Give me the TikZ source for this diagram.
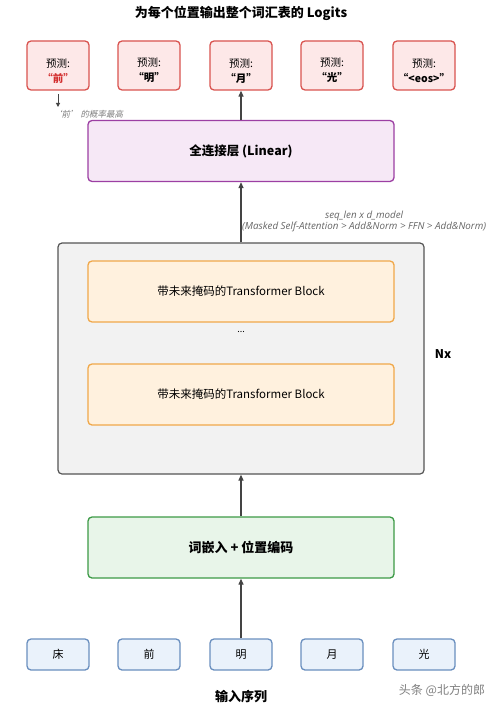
\documentclass[tikz,border=0pt]{standalone}
\usepackage{fontspec}
\setmainfont{Noto Sans CJK SC}
\newfontfamily\latit{Open Sans}
\newfontfamily\cjkit{Noto Sans CJK SC}[FakeSlant=0.2]
\usetikzlibrary{arrows.meta}
\definecolor{predfill}{HTML}{FDE8E8}
\definecolor{preddraw}{HTML}{D9534F}
\definecolor{infill}{HTML}{EAF2FB}
\definecolor{indraw}{HTML}{6A8FBF}
\definecolor{linfill}{HTML}{F6E8F6}
\definecolor{lindraw}{HTML}{9C3FA3}
\definecolor{stackfill}{HTML}{F2F2F2}
\definecolor{stackdraw}{HTML}{555555}
\definecolor{blkfill}{HTML}{FFF1DE}
\definecolor{blkdraw}{HTML}{F0A84A}
\definecolor{embfill}{HTML}{E8F5E9}
\definecolor{embdraw}{HTML}{3C9A46}
\definecolor{arrowc}{HTML}{444444}
\definecolor{notec}{HTML}{666666}
\definecolor{redtxt}{HTML}{D32F2F}
\newcommand{\toppad}{\rule{0pt}{19pt}}
\tikzset{
  box/.style={rounded corners=4pt, line width=1.3pt, inner sep=0pt, align=center},
  predbox/.style={box, fill=predfill, draw=preddraw, minimum width=62pt, minimum height=49pt, font=\fontsize{10.5}{15}\selectfont},
  inbox/.style={box, fill=infill, draw=indraw, minimum width=62pt, minimum height=31pt, font=\fontsize{11}{12}\selectfont},
  widebox/.style={box, minimum width=306pt, minimum height=61pt},
  flow/.style={-{Triangle[length=6pt,width=5pt]}, line width=1.2pt, draw=arrowc},
  note/.style={text=notec, inner sep=0pt},
}
\begin{document}
\begin{tikzpicture}[x=1pt,y=-1pt]
\useasboundingbox[fill=white] (0,0) rectangle (500,706);

\node[font=\fontsize{13}{14}\selectfont\bfseries] (title) at (241,13) {为每个位置输出整个词汇表的 Logits};

\node[predbox] (o1) at (58,65.5) {\toppad 预测:\\{\bfseries\color{redtxt}“前”}};
\node[predbox] (o2) at (149,65.5) {\toppad 预测:\\{\bfseries “明”}};
\node[predbox] (o3) at (241,65.5) {\toppad 预测:\\{\bfseries “月”}};
\node[predbox] (o4) at (332,65.5) {\toppad 预测:\\{\bfseries “光”}};
\node[predbox] (o5) at (424,65.5) {\toppad 预测:\\{\bfseries “<eos>”}};

\coordinate (ps) at (58,94);
\coordinate (pe) at (58,107);
\draw[-{Triangle[length=4pt,width=4pt]}, line width=1pt, draw=arrowc] (ps) -- (pe);
\node[note, anchor=west, font=\fontsize{8.5}{9}\selectfont\cjkit, text=gray] (pnote) at (53,114) {‘前’ 的概率最高};

\node[widebox, fill=linfill, draw=lindraw, font=\fontsize{12.5}{14}\selectfont\bfseries] (lin) at (241,151) {全连接层 (Linear)};

\node[box, fill=stackfill, draw=stackdraw, line width=1.2pt, minimum width=366pt, minimum height=231pt] (stack) at (241,358.5) {};
\node[widebox, fill=blkfill, draw=blkdraw, font=\fontsize{11.5}{13}\selectfont] (b1) at (241,291.5) {带未来掩码的Transformer Block};
\node[font=\fontsize{9}{10}\selectfont] (dots) at (241,332) {...};
\node[widebox, fill=blkfill, draw=blkdraw, font=\fontsize{11.5}{13}\selectfont] (b2) at (241,394.5) {带未来掩码的Transformer Block};
\node[font=\fontsize{12}{14}\selectfont\bfseries] (nx) at (443,354) {Nx};

\node[widebox, fill=embfill, draw=embdraw, font=\fontsize{13}{14}\selectfont\bfseries] (emb) at (241,547.5) {词嵌入 + 位置编码};

\node[inbox] (i1) at (58,654.5) {床};
\node[inbox] (i2) at (149,654.5) {前};
\node[inbox] (i3) at (241,654.5) {明};
\node[inbox] (i4) at (332,654.5) {月};
\node[inbox] (i5) at (424,654.5) {光};

\node[font=\fontsize{13}{14}\selectfont\bfseries] (inlabel) at (241,697) {输入序列};
\node[note, text=gray, font=\fontsize{12}{13}\selectfont] (wm) at (442,690) {头条 @北方的郎};

\draw[flow] (i3.north) -- (emb.south);
\draw[flow] (emb.north) -- (stack.south);
\draw[flow] (stack.north) -- node[note, anchor=west, xshift=0.5pt, yshift=-9pt, align=center, font=\fontsize{9.8}{11.5}\selectfont\latit\itshape] (shape) {seq\_len x d\_model\\(Masked Self-Attention > Add\&Norm > FFN > Add\&Norm)} (lin.south);
\draw[flow] (lin.north) -- (o3.south);
\end{tikzpicture}
\end{document}
